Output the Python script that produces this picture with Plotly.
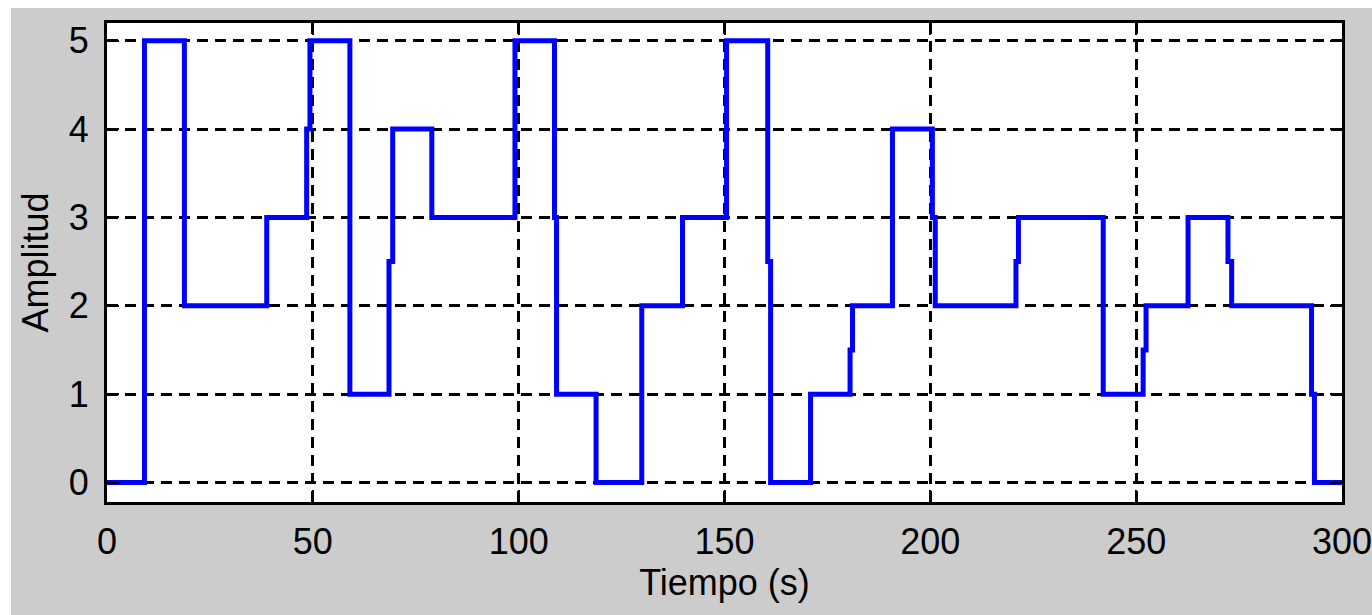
import plotly.graph_objects as go

# Step signal: time at which each level starts, and the level
tiempo = [0, 9.1, 18.8, 38.8, 48.5, 49.3, 59.0, 68.5, 69.4, 78.9, 99.1, 108.7,
          109.2, 118.8, 129.9, 139.8, 150.5, 160.5, 161.2, 170.9, 180.5, 181.1,
          190.8, 200.5, 201.2, 220.8, 221.4, 242.0, 251.7, 252.4, 262.6, 272.3,
          273.2, 292.6, 293.3, 300]
amplitud = [0, 5, 2, 3, 4, 5, 1, 2.5, 4, 3, 5, 3,
            1, 0, 2, 3, 5, 2.5, 0, 1, 1.5, 2,
            4, 3, 2, 2.5, 3, 1, 1.5, 2, 3, 2.5,
            2, 1, 0, 0]

x_ticks = [0, 50, 100, 150, 200, 250, 300]
y_ticks = [0, 1, 2, 3, 4, 5]

W, H = 1372, 615
ml, mr, mt, mb = 107, 30, 23, 113
pw, ph = W - ml - mr, H - mt - mb

fig = go.Figure()
fig.add_trace(go.Scatter(
    x=tiempo, y=amplitud, mode="lines",
    line=dict(color="rgb(0,0,255)", width=5, shape="hv"),
    showlegend=False, hoverinfo="skip",
))

font = dict(family="Liberation Sans, Arial, sans-serif", size=36, color="black")

axis_common = dict(
    showline=True, linecolor="black", linewidth=3, mirror="allticks",
    ticks="inside", ticklen=12, tickwidth=2, tickcolor="black",
    showgrid=True, gridcolor="black", gridwidth=2.5, griddash="11px,7px",
    zeroline=False, tickfont=font, ticklabeloverflow="allow",
)

fig.update_xaxes(
    range=[0, 300], tickvals=x_ticks, ticktext=[str(v) for v in x_ticks],
    title=dict(text="Tiempo (s)", font=font, standoff=4),
    ticklabelstandoff=6,
    **axis_common,
)
fig.update_yaxes(
    range=[-0.22, 5.2], tickvals=y_ticks, ticktext=[str(v) for v in y_ticks],
    title=dict(text="Amplitud", font=font, standoff=10),
    ticklabelstandoff=8,
    **axis_common,
)

# white strips at the left and top edge of the picture
fig.add_shape(type="rect", xref="paper", yref="paper",
              x0=-ml / pw - 0.01, x1=(11 - ml) / pw, y0=-mb / ph - 0.01, y1=1 + mt / ph + 0.01,
              fillcolor="white", line=dict(width=0), layer="above")
fig.add_shape(type="rect", xref="paper", yref="paper",
              x0=-ml / pw - 0.01, x1=1 + mr / pw + 0.01, y0=1 + (mt - 8) / ph, y1=1 + mt / ph + 0.01,
              fillcolor="white", line=dict(width=0), layer="above")

fig.update_layout(
    width=W, height=H,
    margin=dict(l=ml, r=mr, t=mt, b=mb, autoexpand=False),
    paper_bgcolor="#CCCCCC", plot_bgcolor="white",
    font=font,
)

fig.write_html("out.html")
